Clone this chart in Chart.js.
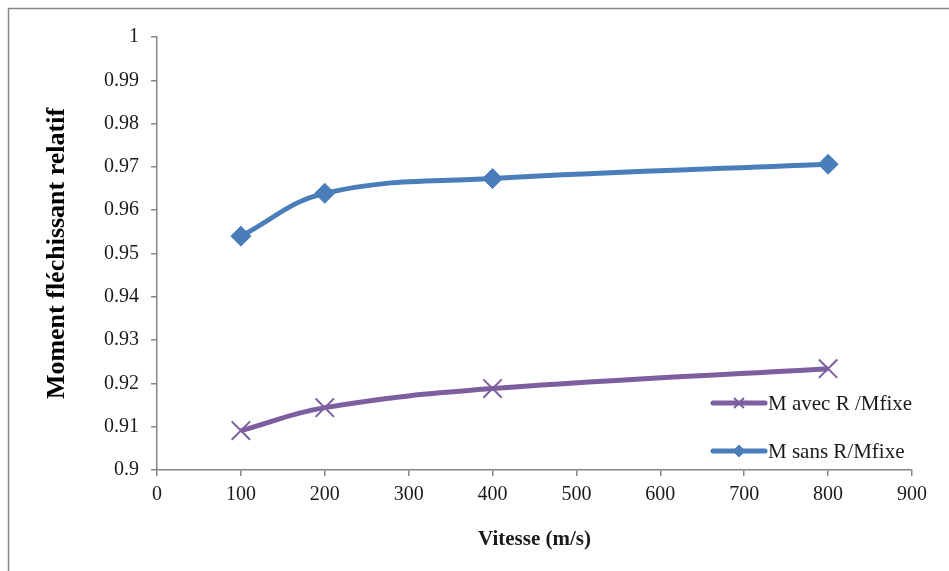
<!DOCTYPE html>
<html>
<head>
<meta charset="utf-8">
<script src="https://cdn.jsdelivr.net/npm/chart.js@4/dist/chart.umd.min.js"></script>
<style>
html,body{margin:0;padding:0;background:#fff;}
canvas{display:block;}
</style>
</head>
<body>
<canvas id="c" width="949" height="571"></canvas>
<script>
const vitesse = [100, 200, 400, 800];
const avecR = [0.9091, 0.9144, 0.9188, 0.9234];
const sansR = [0.9540, 0.9639, 0.9673, 0.9706];
const seriesLabels = ["M avec R /Mfixe", "M sans R/Mfixe"];
const xTitle = "Vitesse (m/s)";
const yTitle = "Moment fléchissant relatif";

const SERIF = '"Liberation Serif","Times New Roman",serif';
const AXIS = '#868686';
const PURPLE = '#7D5FA0';
const BLUE = '#4A7EBB';

const frame = {
  id: 'frame',
  beforeDraw(chart) {
    const ctx = chart.ctx;
    ctx.save();
    ctx.strokeStyle = AXIS;
    ctx.lineWidth = 1.5;
    ctx.beginPath();
    ctx.moveTo(8.5, 571);
    ctx.lineTo(8.5, 8.5);
    ctx.lineTo(949, 8.5);
    ctx.stroke();
    ctx.restore();
  }
};

const legendBox = {
  id: 'legendBox',
  afterDraw(chart) {
    const ctx = chart.ctx;
    const rows = [403, 451];
    ctx.save();
    chart.data.datasets.forEach((ds, i) => {
      const y = rows[i];
      ctx.strokeStyle = ds.borderColor;
      ctx.lineWidth = 5;
      ctx.lineCap = 'round';
      ctx.beginPath();
      ctx.moveTo(713, y);
      ctx.lineTo(765, y);
      ctx.stroke();
      ctx.lineCap = 'butt';
      ctx.fillStyle = ds.pointBackgroundColor;
      ctx.strokeStyle = ds.pointBorderColor;
      ctx.lineWidth = ds.pointBorderWidth;
      Chart.helpers.drawPoint(ctx, {
        pointStyle: ds.pointStyle,
        radius: i === 0 ? 7 : 6,
        borderWidth: ds.pointBorderWidth
      }, 739, y);
      ctx.fillStyle = '#1a1a1a';
      ctx.font = '21px ' + SERIF;
      ctx.textBaseline = 'middle';
      ctx.textAlign = 'left';
      ctx.fillText(ds.label, 768, y + 1);
    });
    ctx.restore();
  }
};

new Chart(document.getElementById('c'), {
  type: 'line',
  data: {
    datasets: [
      {
        label: seriesLabels[0],
        data: vitesse.map((v, i) => ({x: v, y: avecR[i]})),
        borderColor: PURPLE,
        backgroundColor: PURPLE,
        borderWidth: 5,
        tension: 0.4,
        pointStyle: 'crossRot',
        pointRadius: 13,
        pointBorderWidth: 2,
        pointBorderColor: PURPLE,
        pointBackgroundColor: PURPLE
      },
      {
        label: seriesLabels[1],
        data: vitesse.map((v, i) => ({x: v, y: sansR[i]})),
        borderColor: BLUE,
        backgroundColor: BLUE,
        borderWidth: 5,
        tension: 0.4,
        pointStyle: 'rectRot',
        pointRadius: 10,
        pointBorderWidth: 1,
        pointBorderColor: BLUE,
        pointBackgroundColor: BLUE
      }
    ]
  },
  options: {
    responsive: false,
    animation: false,
    layout: {padding: {top: 37, right: 37, left: 0, bottom: 0}},
    plugins: {legend: {display: false}, tooltip: {enabled: false}},
    scales: {
      x: {
        type: 'linear',
        min: 0, max: 900,
        ticks: {stepSize: 100, color: '#1a1a1a', font: {family: SERIF, size: 20}, padding: 7, maxRotation: 0},
        grid: {drawOnChartArea: false, drawTicks: true, tickLength: 6, color: AXIS, lineWidth: 1.5},
        border: {color: AXIS, width: 1.5},
        title: {display: true, text: xTitle, color: '#1a1a1a', font: {family: SERIF, size: 21, weight: 'bold'}, padding: {bottom: 19, top: 0}},
        afterFit(s) { s.height = 101; }
      },
      y: {
        min: 0.9, max: 1,
        ticks: {stepSize: 0.01, color: '#1a1a1a', font: {family: SERIF, size: 20}, padding: 12,
          callback: v => String(Number(v.toFixed(2)))},
        grid: {drawOnChartArea: false, drawTicks: true, tickLength: 6, color: AXIS, lineWidth: 1.5},
        border: {color: AXIS, width: 1.5},
        title: {display: true, text: yTitle, color: '#000', font: {family: SERIF, size: 26, weight: 'bold'}, padding: {top: 42, bottom: 0}},
        afterFit(s) { s.width = 157; }
      }
    }
  },
  plugins: [frame, legendBox]
});
</script>
</body>
</html>
